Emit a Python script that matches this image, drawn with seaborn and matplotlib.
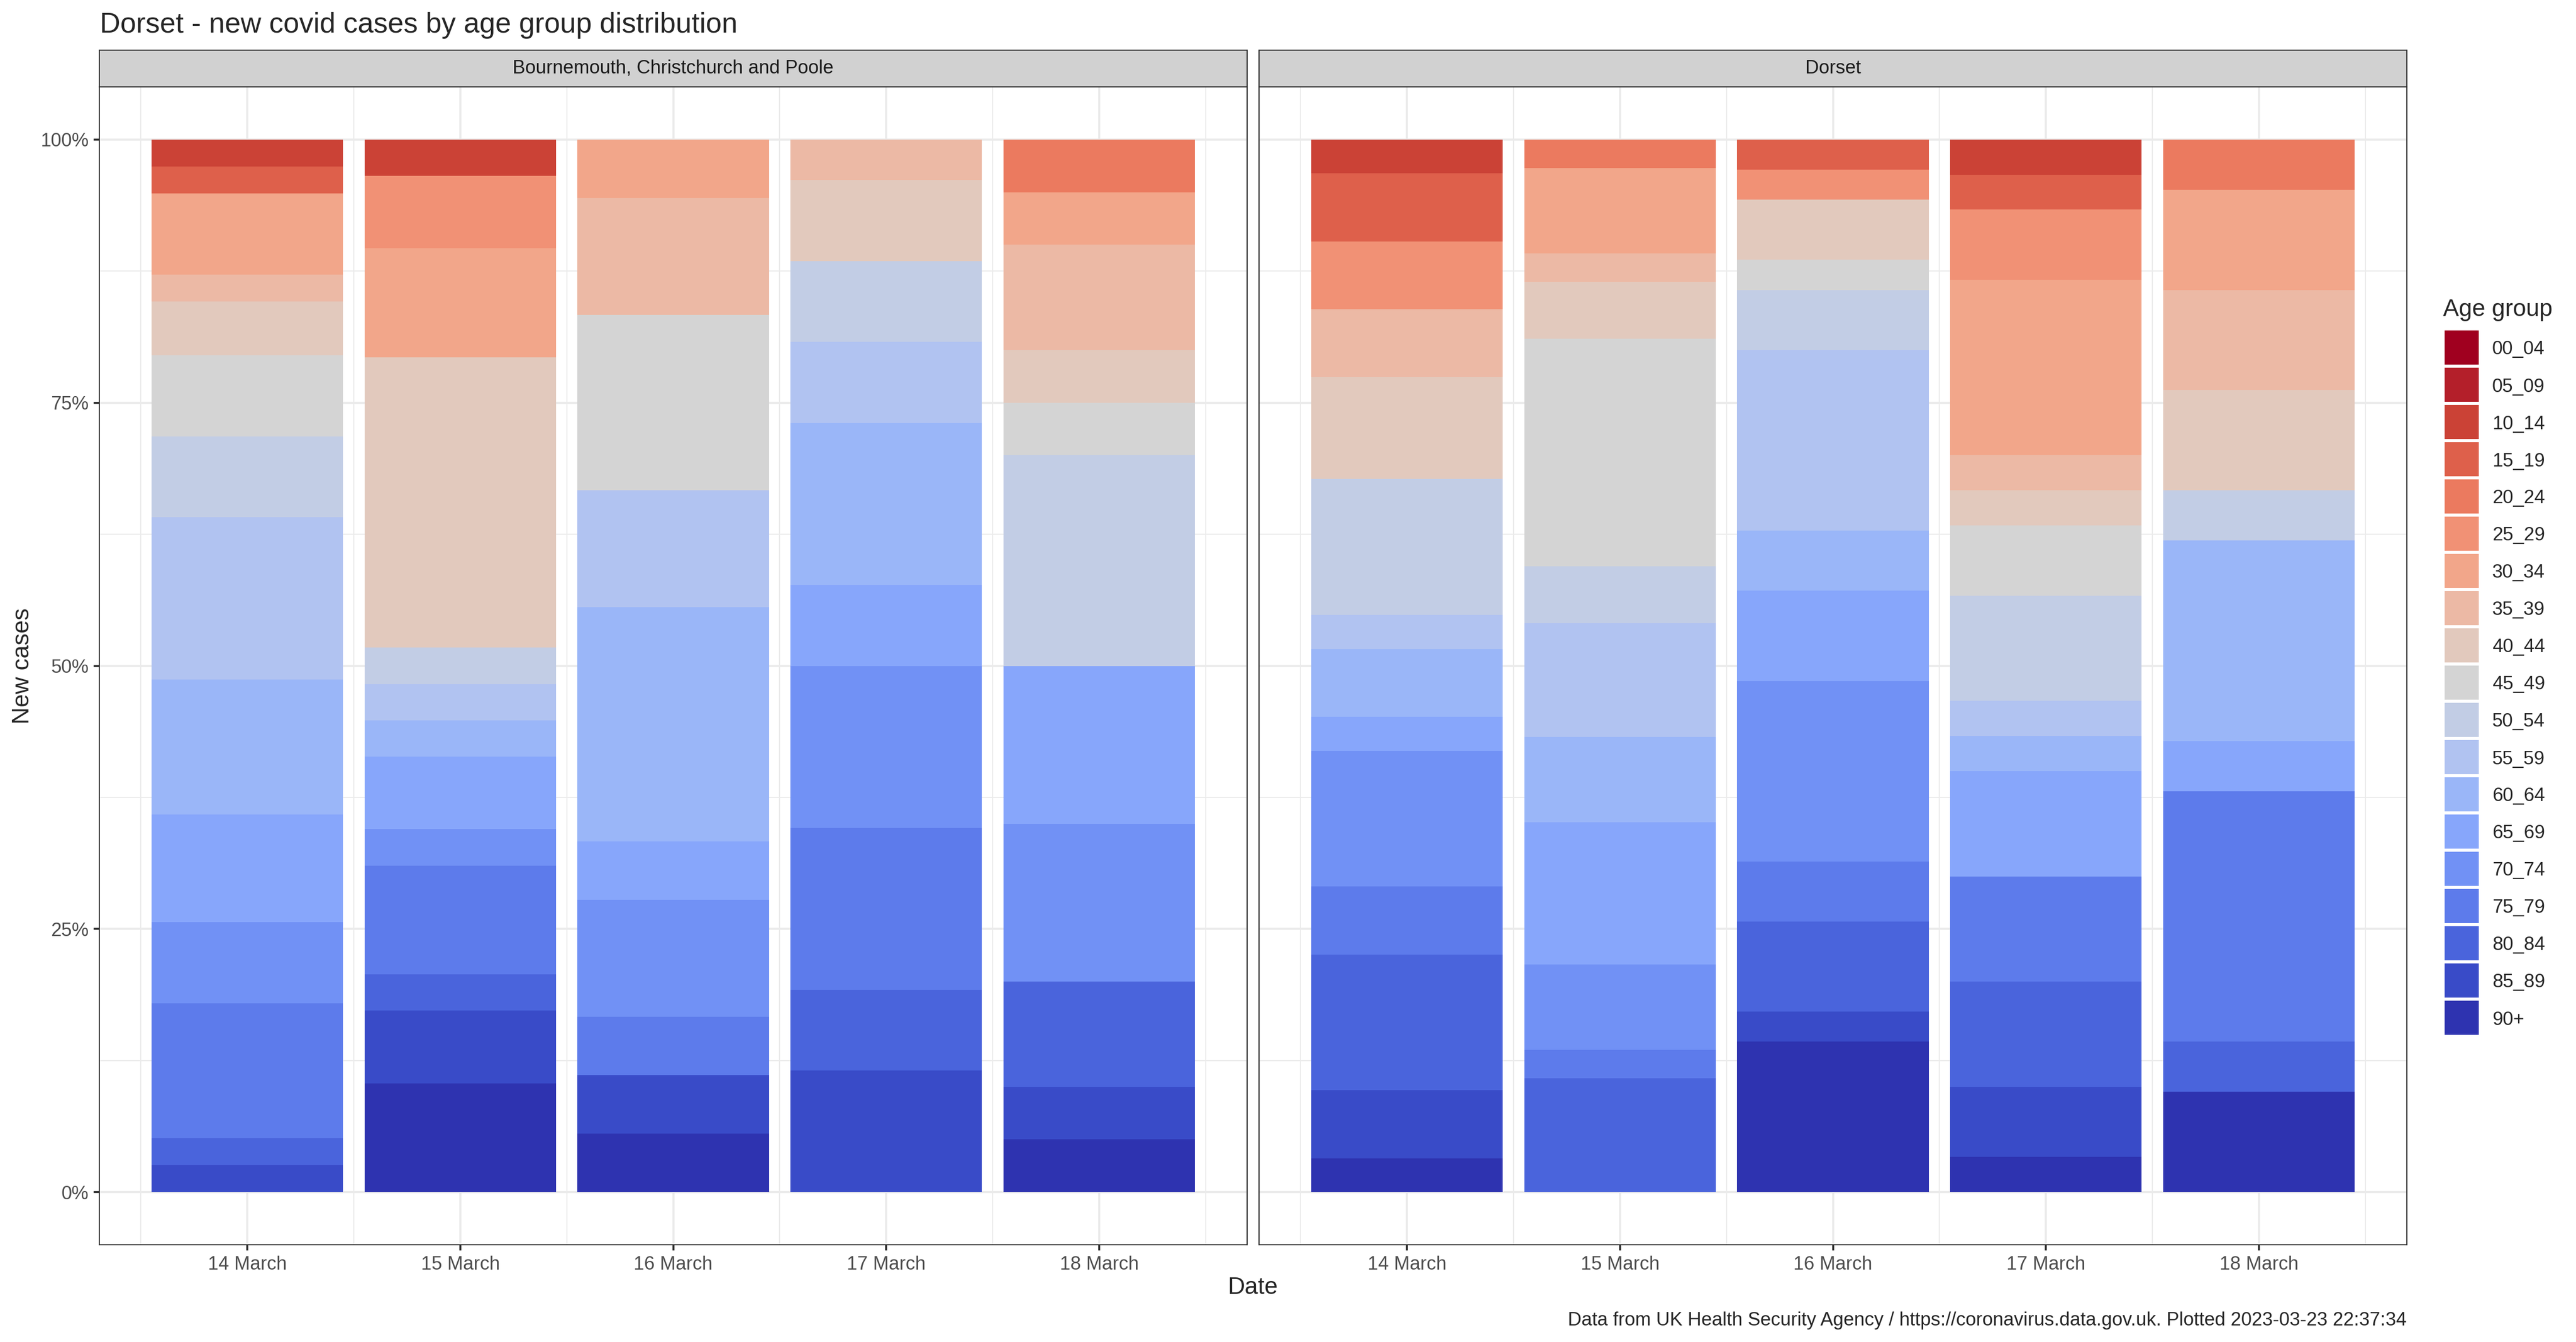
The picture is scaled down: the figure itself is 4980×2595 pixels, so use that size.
import matplotlib
matplotlib.use("Agg")
import matplotlib.pyplot as plt
from matplotlib.patches import Rectangle
from matplotlib.ticker import PercentFormatter, FixedLocator
import seaborn as sns
import pandas as pd

# age bands (first one stacks on top, like the original)
age_groups = ['00_04', '05_09', '10_14', '15_19', '20_24', '25_29', '30_34', '35_39',
              '40_44', '45_49', '50_54', '55_59', '60_64', '65_69', '70_74', '75_79',
              '80_84', '85_89', '90+']
age_colours = ['#A0001F', '#B41F2A', '#CB4236', '#DE604B', '#EB7A5F', '#F19175',
               '#F2A68A', '#ECB9A5', '#E2C9BD', '#D4D4D4', '#C2CDE5', '#B1C3F1',
               '#9AB6F8', '#87A6FB', '#7191F5', '#5D7BEB', '#4A64DC', '#394BC8', '#2E33B0']

days = [14, 15, 16, 17, 18]
day_labels = ['14 March', '15 March', '16 March', '17 March', '18 March']
areas = ['Bournemouth, Christchurch and Poole', 'Dorset']

# new cases per age band, one list per date
bcp_14 = [0, 0, 1, 1, 0, 0, 3, 1, 2, 3, 3, 6, 5, 4, 3, 5, 1, 1, 0]
bcp_15 = [0, 0, 1, 0, 0, 2, 3, 0, 8, 0, 1, 1, 1, 2, 1, 3, 1, 2, 3]
bcp_16 = [0, 0, 0, 0, 0, 0, 1, 2, 0, 3, 0, 2, 4, 1, 2, 1, 0, 1, 1]
bcp_17 = [0, 0, 0, 0, 0, 0, 0, 1, 2, 0, 2, 2, 4, 2, 4, 4, 2, 3, 0]
bcp_18 = [0, 0, 0, 0, 1, 0, 1, 2, 1, 1, 4, 0, 0, 3, 3, 0, 2, 1, 1]

dorset_14 = [0, 0, 1, 2, 0, 2, 0, 2, 3, 0, 4, 1, 2, 1, 4, 2, 4, 2, 1]
dorset_15 = [0, 0, 0, 0, 1, 0, 3, 1, 2, 8, 2, 4, 3, 5, 3, 1, 4, 0, 0]
dorset_16 = [0, 0, 0, 1, 0, 1, 0, 0, 2, 1, 2, 6, 2, 3, 6, 2, 3, 1, 5]
dorset_17 = [0, 0, 1, 1, 0, 2, 5, 1, 1, 2, 3, 1, 1, 3, 0, 3, 3, 2, 1]
dorset_18 = [0, 0, 0, 0, 1, 0, 2, 2, 2, 0, 1, 0, 4, 1, 0, 5, 1, 0, 2]

area_cases = [[bcp_14, bcp_15, bcp_16, bcp_17, bcp_18],
              [dorset_14, dorset_15, dorset_16, dorset_17, dorset_18]]

rows = []
for area, per_day in zip(areas, area_cases):
    for d, counts in zip(days, per_day):
        for age, n in zip(age_groups, counts):
            rows.append({'area': area, 'day': d, 'age': age, 'cases': n})
df = pd.DataFrame(rows)

palette = dict(zip(age_groups, age_colours))

sns.set_style('white')
plt.rcParams['font.family'] = ['Liberation Sans', 'DejaVu Sans']

W, H = 4980, 2595
fig = plt.figure(figsize=(W / 300, H / 300), dpi=300)

lw_border = 0.5
lw_tick = 0.9
lw_major = 1.0
lw_minor = 0.5
grey20 = '#2B2B2B'
grey30 = '#4D4D4D'
grey92 = '#EBEBEB'

panel_w = 2219
panel_left = [192, 2434]
panel_top, panel_bottom = 168, 2407
strip_top = 97

for i, area in enumerate(areas):
    x0 = panel_left[i]
    ax = fig.add_axes([x0 / W, (H - panel_bottom) / H, panel_w / W, (panel_bottom - panel_top) / H])
    sns.histplot(data=df[df['area'] == area], x='day', hue='age', weights='cases',
                 hue_order=age_groups, palette=palette, multiple='fill', discrete=True,
                 shrink=0.9, linewidth=0, alpha=1, legend=False, ax=ax, zorder=2)
    ax.set_xlim(days[0] - 0.695, days[-1] + 0.695)
    ax.set_ylim(-0.05, 1.05)
    ax.set_xticks(days)
    ax.set_xticklabels(day_labels)
    ax.xaxis.set_minor_locator(FixedLocator([d - 0.5 for d in days] + [days[-1] + 0.5]))
    ax.set_yticks([0, 0.25, 0.5, 0.75, 1.0])
    ax.yaxis.set_minor_locator(FixedLocator([0.125, 0.375, 0.625, 0.875]))
    ax.yaxis.set_major_formatter(PercentFormatter(1.0, decimals=0))
    ax.grid(which='major', color=grey92, linewidth=lw_major, zorder=0)
    ax.grid(which='minor', color=grey92, linewidth=lw_minor, zorder=0)
    ax.set_axisbelow(True)
    ax.set_xlabel('')
    ax.set_ylabel('')
    for sp in ax.spines.values():
        sp.set_color(grey20)
        sp.set_linewidth(lw_border)
    ax.tick_params(which='major', length=2.75, width=lw_tick, color=grey20,
                   labelsize=8.8, labelcolor=grey30, pad=2.2)
    ax.tick_params(which='minor', length=0)
    ax.tick_params(axis='x', bottom=True)
    if i == 0:
        ax.tick_params(axis='y', left=True)
    else:
        ax.tick_params(axis='y', left=False, labelleft=False)

    # facet strip
    sax = fig.add_axes([x0 / W, (H - panel_top) / H, panel_w / W, (panel_top - strip_top) / H])
    sax.set_facecolor('#D1D1D1')
    sax.set_xticks([])
    sax.set_yticks([])
    for sp in sax.spines.values():
        sp.set_color(grey20)
        sp.set_linewidth(lw_border)
    sax.text(0.5, 0.5, area, ha='center', va='center', fontsize=8.8, color='#1A1A1A',
             transform=sax.transAxes)

fig.text(193 / W, 1 - 63 / H, 'Dorset - new covid cases by age group distribution',
         fontsize=13.2, ha='left', va='baseline')
fig.text(44 / W, 1 - 1288 / H, 'New cases', fontsize=11, rotation=90, ha='center', va='center')
fig.text(2422 / W, 1 - 2490 / H, 'Date', fontsize=11, ha='center', va='center')
fig.text(4653 / W, 1 - 2563 / H,
         'Data from UK Health Security Agency / https://coronavirus.data.gov.uk. Plotted 2023-03-23 22:37:34',
         fontsize=8.8, ha='right', va='baseline')

# legend drawn by hand to get ggplot-sized keys
fig.text(4723 / W, 1 - 611 / H, 'Age group', fontsize=11, ha='left', va='baseline')
key_left, key_top, key_size, key_step = 4726, 639, 66, 72
for j, (age, col) in enumerate(zip(age_groups, age_colours)):
    top = key_top + j * key_step
    fig.patches.append(Rectangle((key_left / W, 1 - (top + key_size) / H), key_size / W, key_size / H,
                                 transform=fig.transFigure, facecolor=col, edgecolor='none'))
    fig.text(4818 / W, 1 - (top + key_size / 2) / H, age, fontsize=8.8, ha='left', va='center_baseline')

fig.savefig('out.png', dpi=300, facecolor='white')
